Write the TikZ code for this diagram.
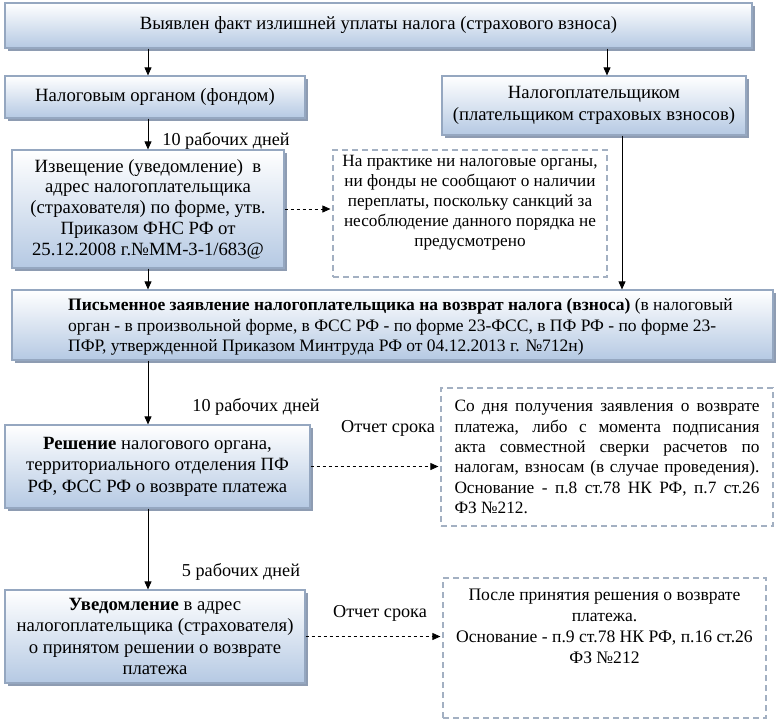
\documentclass[tikz,border=0pt]{standalone}
\usepackage{fontspec}
\setmainfont{Liberation Serif}
\usetikzlibrary{arrows.meta,shadows,calc}
\definecolor{boxline}{HTML}{95A7C0}
\definecolor{boxbot}{HTML}{B5C9E3}
\definecolor{shadowc}{HTML}{8E9CB2}
\definecolor{dashc}{HTML}{A3B0C2}
\begin{document}
\begin{tikzpicture}[x=1pt,y=-1pt,
  bluebox/.style={draw=boxline, line width=1.2pt, top color=white, bottom color=boxbot,
     drop shadow={shadow xshift=3pt, shadow yshift=-3pt, fill=shadowc, opacity=1},
     inner sep=0pt, align=center, font=\fontsize{18.7}{21.5}\selectfont},
  notebox/.style={draw=dashc, line width=1.2pt, dash pattern=on 6pt off 4pt, fill=white,
     inner sep=0pt, align=center, font=\fontsize{17.3}{20.3}\selectfont},
  arr/.style={-{Triangle[length=8pt,width=7pt]}, line width=0.8pt},
  darr/.style={-{Triangle[length=8pt,width=7pt]}, line width=0.8pt, dash pattern=on 3.5pt off 2.5pt},
  lbl/.style={font=\fontsize{18.2}{21}\selectfont, inner sep=0pt}]
\useasboundingbox (0,0) rectangle (779,724);

\node[bluebox, minimum width=747pt, minimum height=45pt] (top) at (378.5,25.5)
  {Выявлен факт излишней уплаты налога (страхового взноса)};
\node[bluebox, minimum width=300pt, minimum height=42pt] (nalorg) at (155,97)
  {Налоговым органом (фондом)};
\node[bluebox, minimum width=304pt, minimum height=59pt] (naltp) at (594,105.5)
  {Налогоплательщиком\\(плательщиком страховых взносов)};
\node[bluebox, minimum width=272pt, minimum height=118pt, font=\fontsize{18.7}{20.8}\selectfont] (izv) at (148,209)
  {Извещение (уведомление)\ \ в\\адрес налогоплательщика\\(страхователя) по форме, утв.\\Приказом ФНС РФ от\\25.12.2008 г.№ММ-3-1/683@};
\node[notebox, minimum width=274pt, minimum height=127pt, font=\fontsize{17.2}{20}\selectfont] (note1) at (470,213.5)
  {На практике ни налоговые органы,\\ни фонды не сообщают о наличии\\переплаты, поскольку санкций за\\несоблюдение данного порядка не\\предусмотрено\\[6pt]};
\node[bluebox, minimum width=761pt, minimum height=70pt] (pism) at (392.5,325) {};
\node[font=\fontsize{17.5}{20.2}\selectfont, align=left, anchor=west, inner sep=0pt] (pismt) at (68,327)
  {\textbf{Письменное заявление налогоплательщика на возврат налога (взноса)} (в налоговый\\орган - в произвольной форме, в ФСС РФ - по форме 23-ФСС, в ПФ РФ - по форме 23-\\ПФР, утвержденной Приказом Минтруда РФ от 04.12.2013 г. №712н)};
\node[bluebox, minimum width=305pt, minimum height=83pt] (resh) at (157.5,466.5)
  {\textbf{Решение} налогового органа,\\территориального отделения ПФ\\РФ, ФСС РФ о возврате платежа};
\node[notebox, minimum width=332pt, minimum height=138pt, text width=305pt, align=justify] (note2) at (607,457)
  {Со дня получения заявления о возврате\linebreak платежа, либо с момента подписания\linebreak акта совместной сверки расчетов по\linebreak налогам, взносам (в случае проведения).\linebreak Основание - п.8 ст.78 НК РФ, п.7 ст.26\linebreak ФЗ №212.};
\node[bluebox, minimum width=300pt, minimum height=93pt] (uved) at (155,636.5)
  {\textbf{Уведомление} в адрес\\налогоплательщика (страхователя)\\о принятом решении о возврате\\платежа};
\node[notebox, minimum width=323pt, minimum height=140pt] (note3) at (604.5,648)
  {};
\node[font=\fontsize{17.6}{21}\selectfont, align=center, anchor=north, inner sep=0pt] (note3t) at ($(note3.north)+(0,11)$)
  {После принятия решения о возврате\\платежа.\\Основание - п.9 ст.78 НК РФ, п.16 ст.26\\ФЗ №212};

\coordinate (xl) at (148,0);
\coordinate (xr1) at (607,0);
\coordinate (xr2) at (622,0);

\draw[arr] (top.south -| xl) -- (nalorg.north -| xl);
\draw[arr] (top.south -| xr1) -- (naltp.north -| xr1);
\draw[arr] (nalorg.south -| xl) -- (izv.north -| xl);
\draw[arr] (izv.south -| xl) -- (pism.north -| xl);
\draw[arr] (naltp.south -| xr2) -- (pism.north -| xr2);
\draw[arr] (pism.south -| xl) -- (resh.north -| xl);
\draw[arr] (resh.south -| xl) -- (uved.north -| xl);

\draw[darr] (izv.east) -- ($(note1.west |- izv.east)+(-2,0)$);
\draw[darr] (resh.east) -- ($(note2.west |- resh.east)+(-2,0)$);
\draw[darr] (uved.east) -- ($(note3.west |- uved.east)+(-2,0)$);

\node[lbl] (l1) at (226,141) {10 рабочих дней};
\node[lbl] (l2) at (256,407) {10 рабочих дней};
\node[lbl] (l3) at (388,428) {Отчет срока};
\node[lbl] (l4) at (241,572) {5 рабочих дней};
\node[lbl] (l5) at (380,613) {Отчет срока};
\end{tikzpicture}
\end{document}
